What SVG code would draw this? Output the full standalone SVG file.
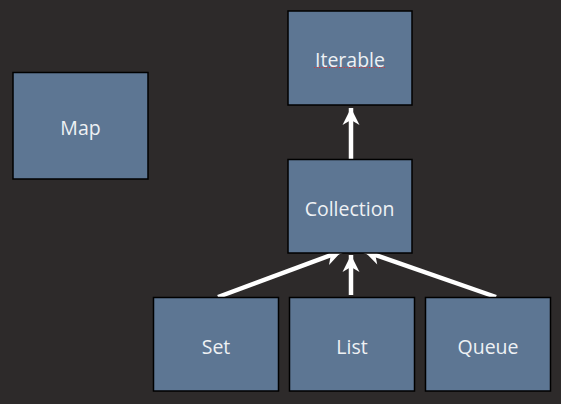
<svg xmlns="http://www.w3.org/2000/svg" width="561" height="404" viewBox="0 0 561 404">
<style>
.node rect{fill:#5d7693;stroke:#000;stroke-width:1.5}
.node text{font-family:"Open Sans","Noto Sans",sans-serif;font-size:19.5px;fill:#eef1f4;text-anchor:middle;dominant-baseline:central}
.edge{stroke:#fff;stroke-width:4.5;fill:none;marker-end:url(#ah)}
</style>
<defs>
<marker id="ah" markerUnits="userSpaceOnUse" markerWidth="20" markerHeight="20" viewBox="-18 -10 20 20" refX="0" refY="0" orient="auto">
<path d="M0,0 L-17,-8.5 L-12,0 L-17,8.5 Z" fill="#fff"/>
</marker>
</defs>
<rect width="561" height="404" fill="#2d2a2a"/>
<g id="connectors">
<line class="edge" x1="351" y1="159" x2="351" y2="108"/>
<line class="edge" x1="218" y1="297" x2="342" y2="251"/>
<line class="edge" x1="351" y1="295" x2="351" y2="255"/>
<line class="edge" x1="496" y1="297" x2="364" y2="251"/>
</g>
<g id="node-map" class="node"><rect x="13" y="72.5" width="135" height="106.5"/><text x="80.5" y="127">Map</text></g>
<g id="node-iterable" class="node"><rect x="288" y="11" width="124" height="94"/><text x="350" y="59">Iterable</text>
<line x1="314" y1="67.5" x2="385" y2="67.5" stroke="#d33" stroke-width="1" stroke-dasharray="1 1.5"/></g>
<g id="node-collection" class="node"><rect x="288" y="159.5" width="124" height="93.5"/><text x="349.5" y="208">Collection</text></g>
<g id="node-set" class="node"><rect x="153.5" y="297.5" width="125" height="93.5"/><text x="216" y="346">Set</text></g>
<g id="node-list" class="node"><rect x="289.5" y="297.5" width="125" height="93.5"/><text x="352" y="346">List</text></g>
<g id="node-queue" class="node"><rect x="425.5" y="297.5" width="125" height="93.5"/><text x="488" y="346">Queue</text></g>
</svg>
